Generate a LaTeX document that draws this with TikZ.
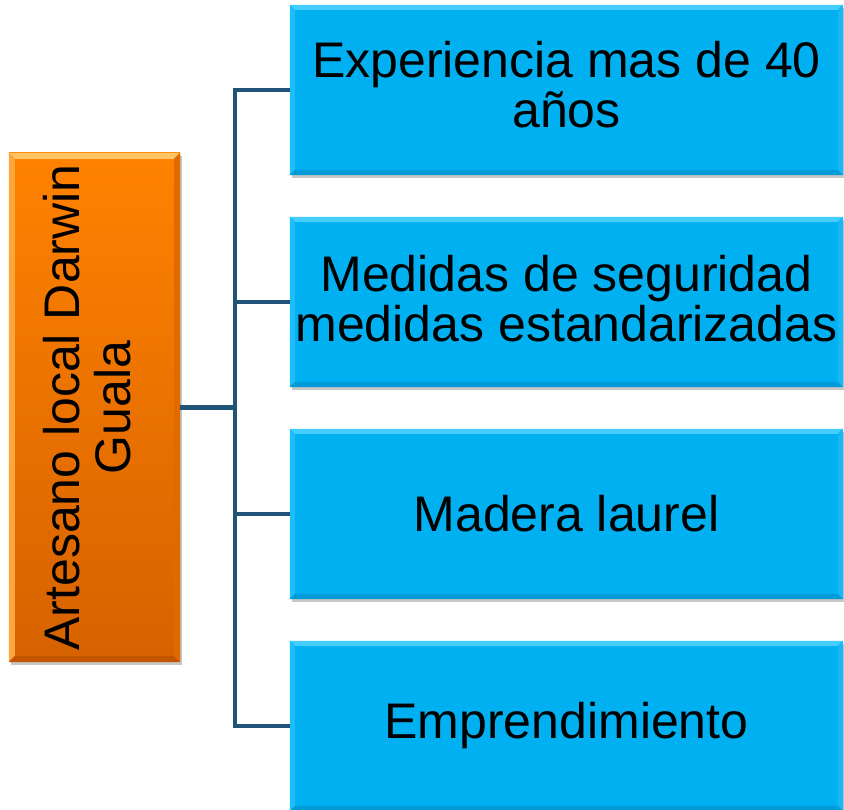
\documentclass[tikz,border=0pt]{standalone}
\usepackage{fontspec}
\setmainfont{Liberation Sans}
\usetikzlibrary{shadows,calc}
\definecolor{bluemain}{RGB}{0,176,240}
\definecolor{bluelight}{RGB}{70,205,255}
\definecolor{blueleft}{RGB}{30,190,252}
\definecolor{bluedark}{RGB}{0,155,215}
\definecolor{blueright}{RGB}{20,185,245}
\definecolor{orangetop}{RGB}{255,130,0}
\definecolor{orangebot}{RGB}{214,98,0}
\definecolor{orangelight}{RGB}{255,196,100}
\definecolor{orangeleft}{RGB}{255,165,60}
\definecolor{orangedark}{RGB}{195,85,0}
\definecolor{orangeright}{RGB}{225,105,0}
\definecolor{linkcol}{RGB}{31,84,120}
\tikzset{
  x=1pt, y=1pt,
  boxshadow/.style={general shadow={shadow xshift=2pt, shadow yshift=-3pt, fill=black, opacity=0.22}},
  bigtext/.style={font=\fontsize{50}{50}\selectfont},
  rootbox/.style={rectangle, inner sep=0pt, minimum width=171pt, minimum height=509pt,
    top color=orangetop, bottom color=orangebot, boxshadow},
  itembox/.style={rectangle, inner sep=0pt, minimum width=553pt, minimum height=170pt,
    fill=bluemain, boxshadow},
  itemtext/.style={inner sep=0pt, align=center, bigtext},
  link/.style={draw=linkcol, line width=4.5pt, line join=miter}
}
\newcommand{\bevelbox}[6]{%
  \fill[#2] (#1.north west) -- (#1.north east) -- ([shift={(-#6,-#6)}]#1.north east) -- ([shift={(#6,-#6)}]#1.north west) -- cycle;
  \fill[#3] (#1.north west) -- (#1.south west) -- ([shift={(#6,#6)}]#1.south west) -- ([shift={(#6,-#6)}]#1.north west) -- cycle;
  \fill[#4] (#1.south west) -- (#1.south east) -- ([shift={(-#6,#6)}]#1.south east) -- ([shift={(#6,#6)}]#1.south west) -- cycle;
  \fill[#5] (#1.north east) -- (#1.south east) -- ([shift={(-#6,#6)}]#1.south east) -- ([shift={(-#6,-#6)}]#1.north east) -- cycle;
}
\begin{document}
\begin{tikzpicture}
\useasboundingbox (0,0) rectangle (844,810);
% root
\node[rootbox] (root) at (94.5,402.5) {};
\bevelbox{root}{orangelight}{orangeleft}{orangedark}{orangeright}{6}
\node[inner sep=0pt, bigtext] (roottext) at (root.center)
  {\rotatebox{90}{\begin{tabular}{@{}c@{}}Artesano local Darwin\\Guala\end{tabular}}};
% items
\node[itembox] (b1) at (566.5,720) {};
\node[itembox] (b2) at (566.5,508) {};
\node[itembox] (b3) at (566.5,296) {};
\node[itembox] (b4) at (566.5,84) {};
\foreach \n in {b1,b2,b3,b4}{\bevelbox{\n}{bluelight}{blueleft}{bluedark}{blueright}{5}}
\node[itemtext] (t1) at ([yshift=5pt]b1.center) {Experiencia mas de 40\\años};
\node[itemtext] (t2) at ([yshift=3pt]b2.center) {Medidas de seguridad\\medidas estandarizadas};
\node[itemtext] (t3) at (b3.center) {Madera laurel};
\node[itemtext] (t4) at (b4.center) {Emprendimiento};
% connectors
\coordinate (hub) at ($(root.east)+(55,0)$);
\draw[link] (root.east) -- (hub);
\draw[link] (b1.west) -| (hub) |- (b4.west);
\draw[link] (hub) |- (b2.west);
\draw[link] (hub) |- (b3.west);
\end{tikzpicture}
\end{document}
